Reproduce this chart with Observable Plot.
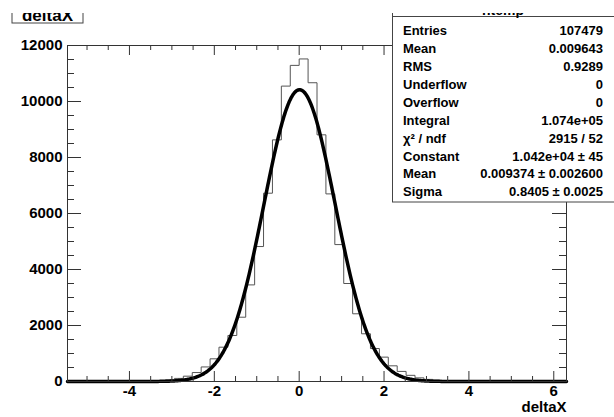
<!DOCTYPE html>
<html><head><meta charset="utf-8">
<script src="https://cdn.jsdelivr.net/npm/d3@7"></script>
<script src="https://cdn.jsdelivr.net/npm/@observablehq/plot@0.6"></script>
<style>body{margin:0;background:#fff} svg{display:block}</style>
</head><body><div id="chart"></div>
<script>
// ---- data ----
const binLow = -5.46;
const binWidth = 0.21;
const counts = [
  0,0,1,0,2,3,5,8,
  12,20,35,60,110,190,320,520,
  810,1225,1643,2296,3450,4820,6725,8630,10550,11290,
  11520,10670,8810,6700,4890,3500,2418,1704,1178,870,
  560,360,220,130,75,45,25,15,10,6,
  4,3,2,1,1,0,0,0,0,0
];
const fitParams = [10420, 0.009374, 0.8405]; // Constant, Mean, Sigma
const xTicks = [-4, -2, 0, 2, 4, 6];
const yTicks = [0, 2000, 4000, 6000, 8000, 10000, 12000];
const histName = "htemp";
const histTitle = "deltaX";
const axisTitle = "deltaX";
const statLabels = ["Entries","Mean","RMS","Underflow","Overflow","Integral","χ² / ndf","Constant","Mean","Sigma"];
const statValues = ["107479","0.009643","0.9289","0","0","1.074e+05","2915 / 52","1.042e+04 ± 45","0.009374 ± 0.002600","0.8405 ± 0.0025"];

// ---- layout ----
const W = 614, H = 417, mL = 67, mR = 48, mT = 45, mB = 36;
const fw = W - mL - mR, fh = H - mT - mB;
const xMax = binLow + binWidth * counts.length;

const steps = counts.map((c, i) => ({x: binLow + i * binWidth, y: c}));
steps.push({x: xMax, y: counts[counts.length - 1]});

const [C, mu, sg] = fitParams;
const fit = d3.range(binLow, xMax + 1e-9, 0.02).map(x => ({x, y: C * Math.exp(-0.5 * ((x - mu) / sg) ** 2)}));

const xMajor = xTicks;
const xMinor = d3.range(-5, 6.01, 0.5).filter(v => !xMajor.includes(v));
const yMajor = yTicks;
const yMinor = d3.range(500, 12000, 500).filter(v => v % 2000 !== 0);

const font = "'Liberation Sans', Arial, Helvetica, sans-serif";
const axisColor = "#333";

const chart = Plot.plot({
  width: W, height: H,
  marginLeft: mL, marginRight: mR, marginTop: mT, marginBottom: mB,
  style: {fontFamily: font, background: "#fff", color: "#000"},
  x: {domain: [binLow, xMax], axis: null},
  y: {domain: [0, 12000], axis: null},
  marks: [
    Plot.line(steps, {x: "x", y: "y", curve: "step-after", stroke: "#555", strokeWidth: 1}),
    Plot.line(fit, {x: "x", y: "y", stroke: "#000", strokeWidth: 3.5}),
    Plot.frame({stroke: axisColor, strokeWidth: 1}),
    // bottom ticks
    Plot.tickX(xMinor, {x: d => d, insetTop: fh - 5, stroke: axisColor}),
    Plot.tickX(xMajor, {x: d => d, insetTop: fh - 10, stroke: axisColor}),
    // top ticks
    Plot.tickX(xMinor, {x: d => d, insetBottom: fh - 5, stroke: axisColor}),
    Plot.tickX(xMajor, {x: d => d, insetBottom: fh - 10, stroke: axisColor}),
    // left ticks
    Plot.tickY(yMinor, {y: d => d, insetRight: fw - 7, stroke: axisColor}),
    Plot.tickY(yMajor, {y: d => d, insetRight: fw - 14, stroke: axisColor}),
    // right ticks
    Plot.tickY(yMinor, {y: d => d, insetLeft: fw - 7, stroke: axisColor}),
    Plot.tickY(yMajor, {y: d => d, insetLeft: fw - 14, stroke: axisColor}),
    // tick labels
    Plot.text(xTicks, {x: d => d, frameAnchor: "bottom", dy: 10, text: d => String(d),
      fontSize: 15, fontWeight: "bold", lineAnchor: "middle", fill: "#000"}),
    Plot.text(yTicks, {y: d => d, frameAnchor: "left", dx: -5, textAnchor: "end", text: d => String(d),
      fontSize: 15, fontWeight: "bold", lineAnchor: "middle", fill: "#000"}),
    Plot.text([axisTitle], {frameAnchor: "bottom-right", dy: 26, textAnchor: "end", text: d => d,
      fontSize: 15, fontWeight: "bold", lineAnchor: "middle", fill: "#000"})
  ]
});
document.getElementById("chart").appendChild(chart);

// ---- annotation boxes ----
const svg = d3.select(chart);
// stats box
const sb = svg.append("g").attr("font-family", font).attr("text-anchor", "start");
sb.append("rect").attr("x", 392.5).attr("y", -5).attr("width", 240).attr("height", 207)
  .attr("fill", "#fff").attr("stroke", "#444").attr("stroke-width", 1);
sb.append("line").attr("x1", 392.5).attr("x2", 614).attr("y1", 16.5).attr("y2", 16.5)
  .attr("stroke", "#444");
sb.append("text").attr("x", 503).attr("y", 15).attr("text-anchor", "middle")
  .attr("font-size", 14).attr("font-weight", "bold").text(histName);
const row0 = 30.7, rowStep = (191.7 - 30.7) / 9;
statLabels.forEach((lab, i) => {
  const y = row0 + i * rowStep;
  sb.append("text").attr("x", 403).attr("y", y).attr("dy", "0.36em").attr("text-anchor", "start")
    .attr("font-size", 13).attr("font-weight", "bold").text(lab);
  sb.append("text").attr("x", 603).attr("y", y).attr("dy", "0.36em").attr("text-anchor", "end")
    .attr("font-size", 13).attr("font-weight", "bold").text(statValues[i]);
});
// title box
const tb = svg.append("g").attr("font-family", font);
tb.append("rect").attr("x", 12).attr("y", -10).attr("width", 71).attr("height", 33)
  .attr("fill", "#fff").attr("stroke", "#444");
tb.append("text").attr("x", 47.5).attr("y", 20.5).attr("text-anchor", "middle")
  .attr("font-size", 17).attr("font-weight", "bold").text(histTitle);
// top strip (reference is cropped here)
svg.append("rect").attr("x", 0).attr("y", 0).attr("width", W).attr("height", 13).attr("fill", "#fff");
</script>
</body></html>
